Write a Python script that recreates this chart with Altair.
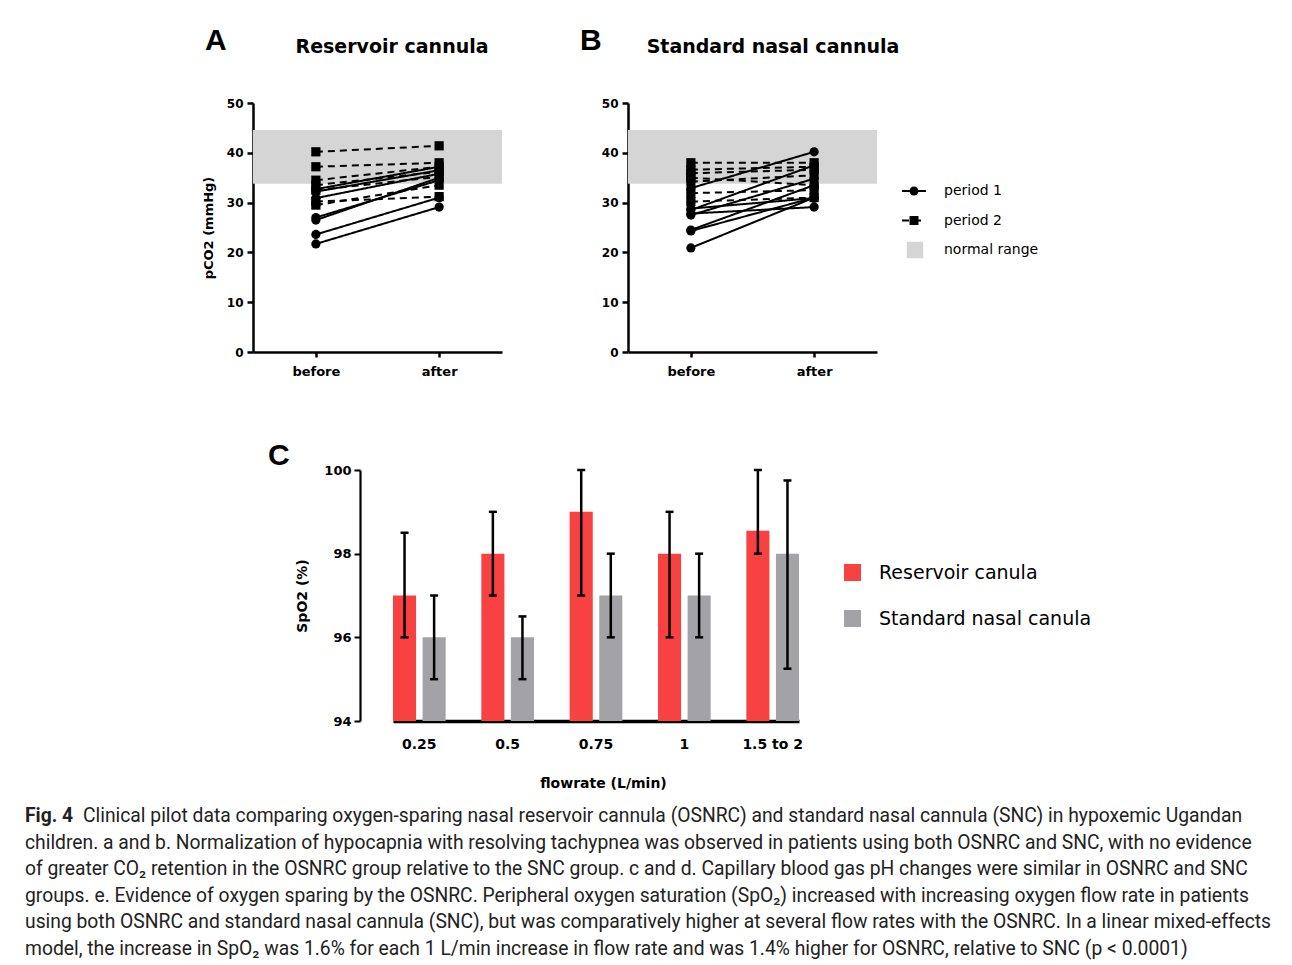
import altair as alt
import pandas as pd

# ---------------- data ----------------
times = ["before", "after"]
periods = ["period 1", "period 2"]

# Panel A - Reservoir cannula (pCO2, mmHg)
a_p1_before = [32.7, 32.2, 30.9, 27.0, 26.5, 23.6, 21.7]
a_p1_after = [37.2, 36.5, 35.8, 34.5, 35.0, 31.0, 29.1]
a_p2_before = [40.2, 37.2, 34.5, 32.5, 30.2, 29.5, 33.5]
a_p2_after = [41.4, 38.0, 37.2, 35.2, 31.2, 33.5, 36.2]

# Panel B - Standard nasal cannula (pCO2, mmHg)
b_p1_before = [32.9, 28.5, 27.5, 28.8, 27.8, 24.5, 24.3, 20.9]
b_p1_after = [40.2, 37.5, 34.8, 30.9, 29.1, 33.5, 31.0, 31.0]
b_p2_before = [38.0, 36.6, 35.9, 35.0, 34.2, 31.9, 30.2]
b_p2_after = [38.0, 37.2, 36.6, 33.5, 35.5, 32.5, 31.0]

normal_range = [33.8, 44.6]
pco2_ticks = [0, 10, 20, 30, 40, 50]
legend_items = ["period 1", "period 2", "normal range"]

# Panel C - SpO2 by flow rate
flow_rates = ["0.25", "0.5", "0.75", "1", "1.5 to 2"]
devices = ["Reservoir canula", "Standard nasal canula"]
res_mean = [97.0, 98.0, 99.0, 98.0, 98.55]
res_low = [96.0, 97.0, 97.0, 96.0, 98.0]
res_high = [98.5, 99.0, 100.0, 99.0, 100.0]
snc_mean = [96.0, 96.0, 97.0, 97.0, 98.0]
snc_low = [95.0, 95.0, 96.0, 96.0, 95.25]
snc_high = [97.0, 96.5, 98.0, 98.0, 99.75]
spo2_ticks = [94, 96, 98, 100]

caption_label = "Fig. 4"
caption_lines = [
    "Clinical pilot data comparing oxygen-sparing nasal reservoir cannula (OSNRC) and standard nasal cannula (SNC) in hypoxemic Ugandan",
    "children. a and b. Normalization of hypocapnia with resolving tachypnea was observed in patients using both OSNRC and SNC, with no evidence",
    "of greater CO\u2082 retention in the OSNRC group relative to the SNC group. c and d. Capillary blood gas pH changes were similar in OSNRC and SNC",
    "groups. e. Evidence of oxygen sparing by the OSNRC. Peripheral oxygen saturation (SpO\u2082) increased with increasing oxygen flow rate in patients",
    "using both OSNRC and standard nasal cannula (SNC), but was comparatively higher at several flow rates with the OSNRC. In a linear mixed-effects",
    "model, the increase in SpO\u2082 was 1.6% for each 1 L/min increase in flow rate and was 1.4% higher for OSNRC, relative to SNC (p < 0.0001)",
]

# ---------------- style ----------------
BLACK = "black"
RED = "#f84141"
GRAY = "#a3a2a7"
BAND = "#d5d5d5"
FONT = "DejaVu Sans"
LETTER_FONT = "Liberation Sans"
CAP_FONT = "Roboto"
CAP_SIZE = 19.3

PW, PH = 249, 249


def spacer(w, h=10):
    return (
        alt.Chart(pd.DataFrame({"v": [0]}))
        .mark_point(opacity=0, size=1)
        .encode(x=alt.value(w / 2), y=alt.value(h / 2))
        .properties(width=w, height=h)
    )


def pco2_panel(p1b, p1a, p2b, p2a, letter, title, title_dx, ytitle):
    rows = []
    for period, bs, afs in ((periods[0], p1b, p1a), (periods[1], p2b, p2a)):
        for i, (b, a) in enumerate(zip(bs, afs)):
            sid = f"{period}-{i}"
            rows.append({"subject": sid, "period": period, "time": times[0], "pco2": b})
            rows.append({"subject": sid, "period": period, "time": times[1], "pco2": a})
    df = pd.DataFrame(rows)

    yscale = alt.Scale(domain=[0, 50], nice=False, zero=True)
    xscale = alt.Scale(type="point", domain=times, padding=0.51)
    ykw = dict(
        values=pco2_ticks, grid=False,
        labelFont=FONT, labelFontWeight="bold", labelFontSize=12, labelColor=BLACK,
        labelPadding=4, tickSize=6, tickWidth=2.5, tickColor=BLACK,
        domainWidth=2.5, domainColor=BLACK,
    )
    if ytitle:
        yaxis = alt.Axis(title=ytitle, titleFont=FONT, titleFontSize=13, titleFontWeight="bold",
                         titleColor=BLACK, titlePadding=11, **ykw)
    else:
        yaxis = alt.Axis(title=None, **ykw)
    xaxis = alt.Axis(
        title=None, grid=False, labelAngle=0,
        labelFont=FONT, labelFontWeight="bold", labelFontSize=13, labelColor=BLACK,
        labelPadding=8, tickSize=5, tickWidth=2.5, tickColor=BLACK,
        domainWidth=2.5, domainColor=BLACK,
    )

    band = (
        alt.Chart(pd.DataFrame({"lo": [normal_range[0]], "hi": [normal_range[1]]}))
        .mark_rect(color=BAND)
        .encode(y=alt.Y("lo:Q", scale=yscale, axis=yaxis), y2="hi:Q")
    )
    lines = (
        alt.Chart(df)
        .mark_line(color=BLACK, strokeWidth=2)
        .encode(
            x=alt.X("time:N", scale=xscale, axis=xaxis, sort=times),
            y=alt.Y("pco2:Q", scale=yscale, axis=yaxis),
            detail="subject:N",
            strokeDash=alt.StrokeDash(
                "period:N",
                scale=alt.Scale(domain=periods, range=[[1, 0], [7, 5]]),
                legend=None,
            ),
        )
    )
    points = (
        alt.Chart(df)
        .mark_point(filled=True, color=BLACK, size=85, opacity=1)
        .encode(
            x=alt.X("time:N", scale=xscale, axis=xaxis, sort=times),
            y=alt.Y("pco2:Q", scale=yscale, axis=yaxis),
            shape=alt.Shape("period:N", scale=alt.Scale(domain=periods, range=["circle", "square"]), legend=None),
        )
    )
    letter_mark = (
        alt.Chart(pd.DataFrame({"t": [letter]}))
        .mark_text(font=LETTER_FONT, fontWeight="bold", fontSize=30, align="left", baseline="middle", color=BLACK)
        .encode(x=alt.value(-48), y=alt.value(-62), text="t:N")
    )
    title_mark = (
        alt.Chart(pd.DataFrame({"t": [title]}))
        .mark_text(font=FONT, fontWeight="bold", fontSize=19, align="center", baseline="middle", color=BLACK)
        .encode(x=alt.value(PW / 2 + title_dx), y=alt.value(-56), text="t:N")
    )
    return alt.layer(band, lines, points, letter_mark, title_mark).properties(width=PW, height=PH)


panel_a = pco2_panel(a_p1_before, a_p1_after, a_p2_before, a_p2_after, "A", "Reservoir cannula", 14.5, "pCO2 (mmHg)")
panel_b = pco2_panel(b_p1_before, b_p1_after, b_p2_before, b_p2_after, "B", "Standard nasal cannula", 20.5, None)

# custom legend for panels A/B
legdf = pd.DataFrame({"item": legend_items})
ly = alt.Y("item:N", sort=legend_items,
           scale=alt.Scale(type="point", domain=legend_items, range=[88, 147], padding=0), axis=None)
leg_rule = (
    alt.Chart(legdf)
    .transform_filter(alt.FieldOneOfPredicate(field="item", oneOf=periods))
    .mark_rule(color=BLACK, strokeWidth=2)
    .encode(
        y=ly, x=alt.value(-3), x2=alt.value(21),
        strokeDash=alt.StrokeDash("item:N", scale=alt.Scale(domain=periods, range=[[1, 0], [6, 14, 2, 2]]), legend=None),
    )
)
leg_marker = (
    alt.Chart(legdf)
    .transform_filter(alt.FieldOneOfPredicate(field="item", oneOf=periods))
    .mark_point(filled=True, color=BLACK, size=80, opacity=1)
    .encode(
        y=ly, x=alt.value(9),
        shape=alt.Shape("item:N", scale=alt.Scale(domain=periods, range=["circle", "square"]), legend=None),
    )
)
leg_band = (
    alt.Chart(legdf)
    .transform_filter(alt.FieldEqualPredicate(field="item", equal=legend_items[2]))
    .mark_point(filled=True, color=BAND, size=270, shape="square", opacity=1)
    .encode(y=ly, x=alt.value(10))
)
leg_text = (
    alt.Chart(legdf)
    .mark_text(font=FONT, fontSize=14, align="left", baseline="middle", color=BLACK)
    .encode(y=ly, x=alt.value(39), text="item:N")
)
legend_ab = alt.layer(leg_rule, leg_marker, leg_band, leg_text).properties(width=170, height=160)

# ---------------- panel C ----------------
c_rows = []
for i, f in enumerate(flow_rates):
    c_rows.append({"flow": f, "device": devices[0], "mean": res_mean[i], "low": res_low[i], "high": res_high[i]})
    c_rows.append({"flow": f, "device": devices[1], "mean": snc_mean[i], "low": snc_low[i], "high": snc_high[i]})
cdf = pd.DataFrame(c_rows)

CW, CH = 445, 251
cx = alt.X(
    "flow:N", sort=flow_rates,
    scale=alt.Scale(domain=flow_rates, paddingInner=0.404, paddingOuter=0, range=[33, 439]),
    axis=alt.Axis(
        title="flowrate (L/min)", titleX=243, titleFont=FONT, titleFontSize=14, titleFontWeight="bold",
        titleColor=BLACK, titlePadding=25, labelAngle=0,
        labelFont=FONT, labelFontWeight="bold", labelFontSize=14, labelColor=BLACK, labelPadding=16,
        ticks=False, domainWidth=3.5, domainColor=BLACK, grid=False,
    ),
)
cxo = alt.XOffset("device:N", sort=devices, scale=alt.Scale(domain=devices, paddingInner=0.22, paddingOuter=0))
cys = alt.Scale(domain=[94, 100], nice=False, zero=False)
c_yaxis = alt.Axis(
    values=spo2_ticks, title="SpO2 (%)", titleFont=FONT, titleFontSize=14, titleFontWeight="bold",
    titleColor=BLACK, titlePadding=14, grid=False,
    labelFont=FONT, labelFontWeight="bold", labelFontSize=13, labelColor=BLACK, labelPadding=3,
    tickSize=6, tickWidth=2, tickColor=BLACK, domainWidth=2.2, domainColor=BLACK,
)
bars = (
    alt.Chart(cdf)
    .mark_bar(opacity=1)
    .encode(
        x=cx, xOffset=cxo,
        y=alt.Y("mean:Q", scale=cys, axis=c_yaxis),
        y2=alt.datum(94),
        color=alt.Color(
            "device:N", sort=devices,
            scale=alt.Scale(domain=devices, range=[RED, GRAY]),
            legend=alt.Legend(
                title=None, orient="none", legendX=818, legendY=460, padding=0,
                symbolType="square", symbolSize=289, symbolStrokeWidth=0, symbolOpacity=1,
                labelFont=FONT, labelFontSize=19, labelColor=BLACK, labelOffset=17, rowPadding=26,
                labelLimit=400,
            ),
        ),
    )
)
err = (
    alt.Chart(cdf)
    .mark_rule(color=BLACK, strokeWidth=2.5)
    .encode(x=cx, xOffset=cxo, y=alt.Y("low:Q", scale=cys, axis=c_yaxis), y2="high:Q")
)
cap_lo = (
    alt.Chart(cdf)
    .mark_tick(color=BLACK, thickness=2.5, size=8, opacity=1)
    .encode(x=cx, xOffset=cxo, y=alt.Y("low:Q", scale=cys, axis=c_yaxis))
)
cap_hi = (
    alt.Chart(cdf)
    .mark_tick(color=BLACK, thickness=2.5, size=8, opacity=1)
    .encode(x=cx, xOffset=cxo, y=alt.Y("high:Q", scale=cys, axis=c_yaxis))
)
letter_c = (
    alt.Chart(pd.DataFrame({"t": ["C"]}))
    .mark_text(font=LETTER_FONT, fontWeight="bold", fontSize=30, align="left", baseline="middle", color=BLACK)
    .encode(x=alt.value(-92), y=alt.value(-14), text="t:N")
)
panel_c = alt.layer(bars, err, cap_lo, cap_hi, letter_c).properties(width=CW, height=CH)

# ---------------- caption ----------------
cap_df = pd.DataFrame({"line": list(range(len(caption_lines))), "text": caption_lines})
cy = alt.Y("line:O", scale=alt.Scale(type="point", domain=list(range(len(caption_lines))), range=[14, 147], padding=0), axis=None)
cap_fig = (
    alt.Chart(cap_df)
    .transform_filter("datum.line == 0")
    .mark_text(font=CAP_FONT, fontWeight="bold", fontSize=CAP_SIZE, align="left", baseline="middle", color="#222222", text=caption_label)
    .encode(x=alt.value(0), y=cy)
)
cap_first = (
    alt.Chart(cap_df)
    .transform_filter("datum.line == 0")
    .mark_text(font=CAP_FONT, fontSize=CAP_SIZE, align="left", baseline="middle", color="#222222")
    .encode(x=alt.value(58), y=cy, text="text:N")
)
cap_rest = (
    alt.Chart(cap_df)
    .transform_filter("datum.line > 0")
    .mark_text(font=CAP_FONT, fontSize=CAP_SIZE, align="left", baseline="middle", color="#222222")
    .encode(x=alt.value(0), y=cy, text="text:N")
)
caption = alt.layer(cap_fig, cap_first, cap_rest).properties(width=1240, height=148)

# ---------------- layout ----------------
row1 = alt.hconcat(spacer(99), panel_a, alt.hconcat(panel_b, legend_ab, spacing=1), spacing=78)
row2 = alt.hconcat(spacer(243), panel_c, spacing=0)
top = alt.vconcat(row1, row2, spacing=63)

chart = (
    alt.vconcat(top, caption, spacing=12)
    .properties(padding={"left": 17, "top": 18, "right": 5, "bottom": 0}, background="white")
    .configure_view(stroke=None)
)

chart.save("out.html", embed_options={"renderer": "svg", "actions": False})
